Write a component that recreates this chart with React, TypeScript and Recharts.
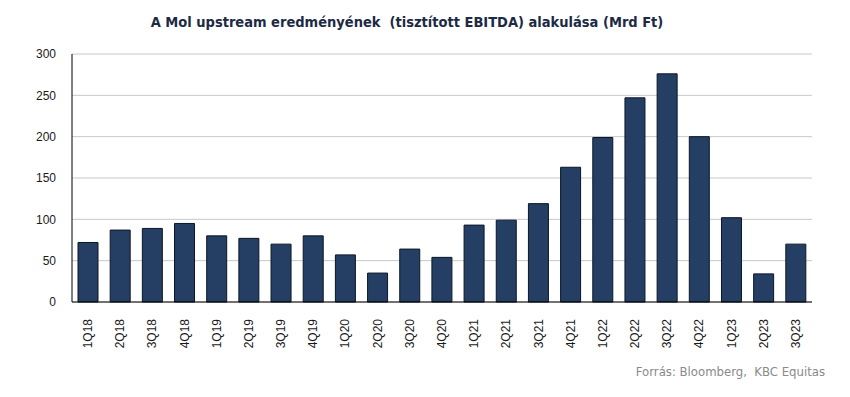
import { BarChart, Bar, XAxis, YAxis, CartesianGrid } from 'recharts';

const QUARTERS = [
  '1Q18', '2Q18', '3Q18', '4Q18', '1Q19', '2Q19', '3Q19', '4Q19',
  '1Q20', '2Q20', '3Q20', '4Q20', '1Q21', '2Q21', '3Q21', '4Q21',
  '1Q22', '2Q22', '3Q22', '4Q22', '1Q23', '2Q23', '3Q23',
];

// Mrd Ft
const EBITDA = [
  72, 87, 89, 95, 80, 77, 70, 80,
  57, 35, 64, 54, 93, 99, 119, 163,
  199, 247, 276, 200, 102, 34, 70,
];

const Y_TICKS = [0, 50, 100, 150, 200, 250, 300];

const data = QUARTERS.map((q, i) => ({ q, value: EBITDA[i] }));

function QuarterTick({ x, y, payload }: any) {
  return (
    <text
      x={x}
      y={y}
      transform={`rotate(-90, ${x}, ${y})`}
      dx={-9}
      dy={4}
      textAnchor="end"
      fill="#1a1a1a"
      fontSize={12}
      fontFamily="'Liberation Sans', Arial, sans-serif"
    >
      {payload.value}
    </text>
  );
}

export default function App() {
  return (
    <div style={{ position: 'absolute', left: 0, top: 0, width: 850, height: 397, background: '#fff' }}>
      <div
        style={{
          position: 'absolute',
          top: 14,
          left: 0,
          width: 814,
          textAlign: 'center',
          whiteSpace: 'pre',
          fontFamily: "'DejaVu Sans Condensed', 'DejaVu Sans', sans-serif",
          fontWeight: 'bold',
          fontSize: 14.5,
          color: '#1c2a44',
        }}
      >
        A Mol upstream eredményének  (tisztított EBITDA) alakulása (Mrd Ft)
      </div>
      <BarChart
        width={850}
        height={397}
        data={data}
        margin={{ top: 54, right: 38, bottom: 94, left: 0 }}
      >
        <CartesianGrid vertical={false} stroke="#c8c8c8" />
        <XAxis
          dataKey="q"
          interval={0}
          tickLine={false}
          axisLine={{ stroke: '#000' }}
          tick={<QuarterTick />}
          height={1}
        />
        <YAxis
          domain={[0, 300]}
          ticks={Y_TICKS}
          width={72}
          tickLine={false}
          axisLine={{ stroke: '#000' }}
          tickMargin={10}
          tick={{ fill: '#1a1a1a', fontSize: 12, fontFamily: "'Liberation Sans', Arial, sans-serif" }}
        />
        <Bar dataKey="value" fill="#243f63" stroke="#0b1626" strokeWidth={1} barSize={20} isAnimationActive={false} />
      </BarChart>
      <div
        style={{
          position: 'absolute',
          top: 364,
          right: 25,
          whiteSpace: 'pre',
          fontFamily: "'DejaVu Sans Condensed', 'DejaVu Sans', sans-serif",
          fontSize: 13,
          color: '#8a8a8a',
        }}
      >
        Forrás: Bloomberg,  KBC Equitas
      </div>
    </div>
  );
}
